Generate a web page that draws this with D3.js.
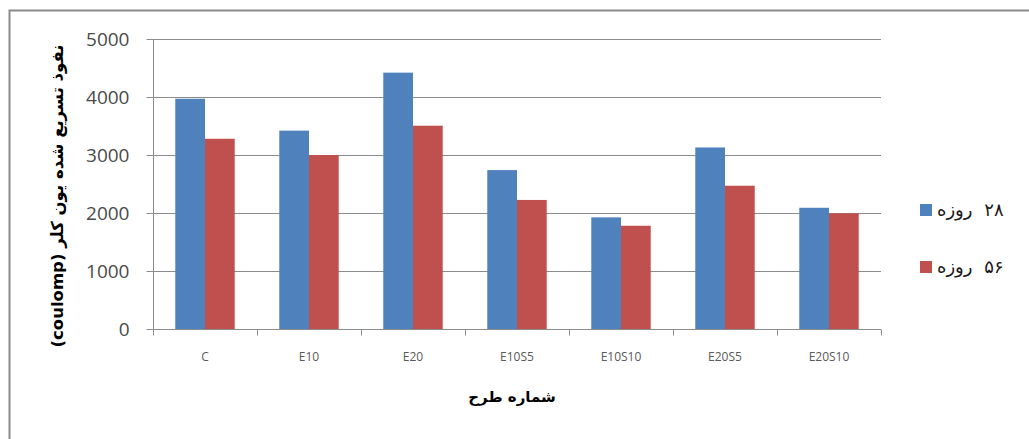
<!DOCTYPE html>
<html>
<head>
<meta charset="utf-8">
<script src="https://cdn.jsdelivr.net/npm/d3@7/dist/d3.min.js"></script>
<style>
  html, body { margin: 0; padding: 0; background: #fff; }
  svg { display: block; }
</style>
</head>
<body>
<svg id="chart" width="1029" height="439"></svg>
<script>
// Chloride ion penetration (coulomb) by mix design, at 28 and 56 days
const categories = ["C", "E10", "E20", "E10S5", "E10S10", "E20S5", "E20S10"];
const day28 = [3970, 3420, 4420, 2740, 1925, 3130, 2090];
const day56 = [3280, 3000, 3505, 2225, 1780, 2470, 1995];
const seriesNames = ["۲۸ روزه", "۵۶ روزه"];
const yTicks = [0, 1000, 2000, 3000, 4000, 5000];
const yTitle = "نفوذ تسریع شده یون کلر (coulomp)";
const xTitle = "شماره طرح";

const colors = ["#4f81bd", "#c0504d"];
const series = [day28, day56];

const svg = d3.select("#chart");
const W = 1029, H = 439;
const plot = { left: 153, right: 881, top: 39, bottom: 329 };

// outer frame of the chart area
svg.append("rect")
  .attr("x", 9.5).attr("y", 10.5)
  .attr("width", W + 10).attr("height", H + 10)
  .attr("fill", "#fff").attr("stroke", "#8a8a8a").attr("stroke-width", 2);

const x = d3.scaleBand().domain(categories).range([plot.left, plot.right]).paddingInner(0).paddingOuter(0);
// Excel-style 150% gap: two bars share bandwidth / (2 + 1.5)
const barW = x.bandwidth() / 3.5;
const gap = barW * 1.5;

const y = d3.scaleLinear().domain([0, 5000]).range([plot.bottom, plot.top]);

// horizontal gridlines
svg.append("g").selectAll("line").data(yTicks).join("line")
  .attr("x1", plot.left).attr("x2", plot.right)
  .attr("y1", d => Math.round(y(d)) + 0.5).attr("y2", d => Math.round(y(d)) + 0.5)
  .attr("stroke", "#8c8c8c").attr("stroke-width", 1);

// bars
const g = svg.append("g");
series.forEach((vals, si) => {
  g.selectAll(null).data(vals).join("rect")
    .attr("x", (d, i) => x(categories[i]) + gap / 2 + si * barW)
    .attr("y", d => y(d))
    .attr("width", barW)
    .attr("height", d => y(0) - y(d))
    .attr("fill", colors[si]);
});

// y axis
const yAxis = d3.axisLeft(y).tickValues(yTicks).tickSize(7).tickPadding(17).tickFormat(d3.format("d"));
const yg = svg.append("g").attr("transform", `translate(${plot.left + 0.5},0)`).call(yAxis);
yg.select(".domain").attr("stroke", "#8c8c8c").attr("d", `M0,${plot.top}V${plot.bottom + 0.5}`);
yg.selectAll(".tick line").attr("stroke", "#8c8c8c");
yg.selectAll(".tick text")
  .attr("font-family", "'Open Sans', 'Liberation Sans', sans-serif")
  .attr("font-size", 19).attr("fill", "#4a4a4a");

// x axis with tick marks at category boundaries
const xg = svg.append("g").attr("transform", `translate(0,${Math.round(plot.bottom) + 0.5})`);
xg.append("line").attr("x1", plot.left).attr("x2", plot.right).attr("stroke", "#8c8c8c");
const bounds = categories.map(c => x(c)).concat([plot.right]);
xg.selectAll("line.tk").data(bounds).join("line").attr("class", "tk")
  .attr("x1", d => Math.round(d) + 0.5).attr("x2", d => Math.round(d) + 0.5)
  .attr("y1", 0).attr("y2", 6).attr("stroke", "#8c8c8c");
xg.selectAll("text").data(categories).join("text")
  .attr("x", d => x(d) + x.bandwidth() / 2)
  .attr("y", 31)
  .attr("text-anchor", "middle")
  .attr("font-family", "'Open Sans', 'Liberation Sans', sans-serif")
  .attr("font-size", 12).attr("fill", "#595959")
  .text(d => d);

// axis titles
svg.append("text")
  .attr("transform", `translate(63,${(plot.top + plot.bottom) / 2 + 12}) rotate(-90)`)
  .attr("direction", "rtl")
  .attr("text-anchor", "middle")
  .attr("font-family", "'DejaVu Sans', sans-serif")
  .attr("font-weight", "bold").attr("font-size", 16.5).attr("fill", "#000")
  .text(yTitle);

svg.append("text")
  .attr("x", 512).attr("y", 402)
  .attr("direction", "rtl")
  .attr("text-anchor", "middle")
  .attr("font-family", "'DejaVu Sans', sans-serif")
  .attr("font-weight", "bold").attr("font-size", 15).attr("fill", "#000")
  .text(xTitle);

// legend
const lg = svg.append("g");
seriesNames.forEach((name, i) => {
  const cy = 210 + i * 57;
  lg.append("rect").attr("x", 920).attr("y", cy - 6).attr("width", 12).attr("height", 12).attr("fill", colors[i]);
  lg.append("text")
    .attr("x", 937).attr("y", cy + 6)
    .attr("direction", "rtl")
    .attr("text-anchor", "end")
    .attr("font-family", "'DejaVu Sans', sans-serif")
    .attr("font-size", 18).attr("word-spacing", 6).attr("letter-spacing", 1.5).attr("fill", "#1a1a1a")
    .text(name);
});
</script>
</body>
</html>
